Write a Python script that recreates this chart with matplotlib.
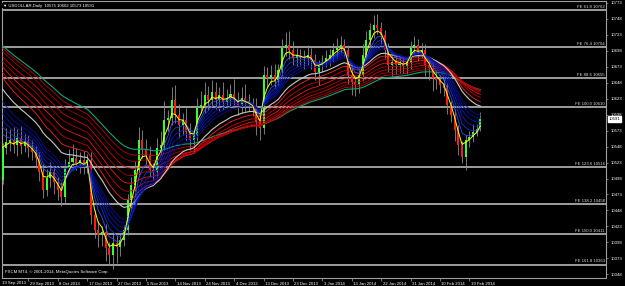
import matplotlib
matplotlib.use("Agg")
import matplotlib.pyplot as plt
import matplotlib.transforms as mtransforms

# daily closes, one per bar
closes = [10546, 10555, 10558, 10550, 10561, 10549, 10556, 10546, 10539, 10530,
          10508, 10480, 10499, 10508, 10492, 10480, 10469, 10514, 10524, 10530,
          10521, 10527, 10517, 10527, 10441, 10417, 10409, 10414, 10389, 10378,
          10397, 10391, 10402, 10417, 10464, 10488, 10511, 10558, 10542, 10535,
          10511, 10508, 10546, 10550, 10589, 10592, 10621, 10597, 10582, 10589,
          10571, 10558, 10566, 10608, 10613, 10629, 10621, 10633, 10621, 10629,
          10618, 10624, 10630, 10621, 10613, 10624, 10616, 10614, 10608, 10586,
          10577, 10660, 10655, 10660, 10652, 10668, 10702, 10707, 10699, 10686,
          10691, 10688, 10686, 10691, 10683, 10665, 10675, 10680, 10686, 10691,
          10699, 10702, 10707, 10699, 10660, 10649, 10644, 10660, 10691, 10715,
          10730, 10738, 10733, 10722, 10699, 10675, 10680, 10675, 10679, 10674,
          10680, 10702, 10707, 10696, 10699, 10675, 10671, 10655, 10652, 10644,
          10640, 10613, 10597, 10574, 10550, 10531, 10558, 10563, 10571, 10575,
          10591]
first_open = 10495
upper_wick = [8, 22, 18, 20, 15, 20, 12, 10, 12, 10,
              10, 12, 14, 16, 10, 8, 12, 14, 20, 22,
              16, 12, 14, 10, 12, 8, 14, 10, 12, 10,
              14, 12, 10, 8, 10, 12, 14, 20, 16, 18,
              14, 12, 16, 22, 30, 14, 20, 24, 18, 12,
              20, 14, 10, 16, 22, 20, 14, 20, 16, 12,
              20, 14, 16, 24, 12, 18, 22, 14, 10, 16,
              12, 14, 12, 16, 18, 10, 14, 20, 22, 14,
              12, 10, 12, 16, 12, 10, 8, 12, 14, 10,
              12, 16, 14, 10, 8, 12, 10, 14, 18, 14,
              12, 16, 18, 10, 8, 12, 10, 8, 12, 10,
              8, 12, 14, 10, 12, 10, 8, 10, 12, 8,
              10, 8, 6, 10, 8, 6, 8, 10, 12, 8,
              11]
lower_wick = [6, 10, 14, 12, 16, 12, 10, 14, 12, 16,
              14, 12, 10, 14, 18, 16, 14, 10, 8, 12,
              10, 14, 12, 10, 14, 12, 18, 16, 20, 16,
              22, 25, 14, 10, 8, 12, 10, 8, 12, 14,
              10, 12, 8, 10, 8, 16, 10, 12, 20, 16,
              12, 16, 20, 10, 8, 12, 16, 10, 14, 18,
              12, 10, 14, 10, 16, 12, 14, 10, 12, 20,
              18, 10, 14, 10, 12, 8, 10, 12, 14, 10,
              12, 14, 16, 10, 14, 12, 20, 10, 8, 12,
              10, 12, 8, 10, 14, 20, 16, 12, 10, 8,
              10, 12, 8, 14, 12, 10, 16, 14, 12, 10,
              12, 10, 8, 14, 10, 16, 18, 20, 14, 12,
              12, 14, 10, 18, 15, 8, 20, 10, 8, 6,
              2]

# moving averages: period and level just before the first visible bar
yellow_ma = (3, 10548)
blue_periods = [5, 7, 9, 11, 13, 15]
blue_seeds = [10578, 10589, 10600, 10610, 10619, 10629]
white_ma = (21, 10647)
red_periods = [25, 30, 35, 40, 45, 50, 55]
red_seeds = [10665, 10672, 10680, 10688, 10695, 10703, 10708]
green_ma = (60, 10711)

fib_names = ["61.8", "76.4", "88.6", "100.0", "123.6", "138.2", "150.0", "161.8"]
fib_prices = [10762, 10704, 10655, 10610, 10516, 10458, 10411, 10363]

date_labels = ["19 Sep 2013", "29 Sep 2013", "8 Oct 2013", "17 Oct 2013", "27 Oct 2013",
               "5 Nov 2013", "14 Nov 2013", "24 Nov 2013", "4 Dec 2013", "13 Dec 2013",
               "23 Dec 2013", "3 Jan 2014", "13 Jan 2014", "22 Jan 2014", "31 Jan 2014",
               "10 Feb 2014", "19 Feb 2014"]
price_ticks = list(range(10348, 10774, 25))
title = "USDOLLAR,Daily  10575 10602 10573 10591"


def ema(values, period, seed):
    k = 2.0 / (period + 1)
    out = []
    prev = seed
    for v in values:
        prev = prev + k * (v - prev)
        out.append(prev)
    return out


plt.rcParams['font.family'] = ['Liberation Sans', 'DejaVu Sans']
fs = 3.1

fig = plt.figure(figsize=(6.25, 2.86), dpi=100, facecolor='black')
W, H = 625.0, 286.0
ax = fig.add_axes([1.7 / W, 1 - 277.5 / H, (606 - 1.7) / W, (277.5 - 1) / H])
ax.set_facecolor('black')

n = len(closes)
xs = list(range(n))
opens = [first_open] + closes[:-1]
highs = [max(o, c) + u for o, c, u in zip(opens, closes, upper_wick)]
lows = [min(o, c) - d for o, c, d in zip(opens, closes, lower_wick)]

# candles
ax.vlines(xs, lows, highs, color='#8c8c8c', lw=0.6, zorder=2)
body_col = ['#33ff33' if c >= o else '#ff1a1a' for o, c in zip(opens, closes)]
body_h = [c - o if abs(c - o) > 1 else 1.5 for o, c in zip(opens, closes)]
ax.bar(xs, body_h, bottom=opens, width=0.55, color=body_col, lw=0, zorder=3)

# ribbons
ax.plot(xs, ema(closes, *green_ma), color='#12a37a', lw=0.8, zorder=4)
red_cols = ['#ff2020', '#d00000', '#ff1010', '#b00000', '#e00000', '#a00000', '#c80000']
for p, s, col in zip(red_periods, red_seeds, red_cols):
    ax.plot(xs, ema(closes, p, s), color=col, lw=0.6, zorder=4)
ax.plot(xs, ema(closes, *white_ma), color='#c8c8c8', lw=0.8, zorder=5)
blue_cols = ['#3050ff', '#1030e0', '#0020d0', '#0018c0', '#0010b0', '#0010a0']
for p, s, col in zip(blue_periods, blue_seeds, blue_cols):
    ax.plot(xs, ema(closes, p, s), color=col, lw=0.6, zorder=5)
ax.plot(xs, ema(closes, *yellow_ma), color='#ffff00', lw=0.7, zorder=6)

# fibonacci expansion levels
for name, price in zip(fib_names, fib_prices):
    ax.axhline(price, color='#c8c8c8', lw=1.1, zorder=1)
    ax.text(0.998, price + 2, "FE %s %d" % (name, price), color='#d8d8d8', fontsize=fs,
            ha='right', va='bottom', transform=mtransforms.blended_transform_factory(ax.transAxes, ax.transData))

ax.set_xlim(-0.27, 164.2)
ax.set_ylim(10343, 10776)

# axes styling
for sp in ax.spines.values():
    sp.set_color('#a0a0a0')
    sp.set_linewidth(0.8)

ax.yaxis.tick_right()
ax.set_yticks(price_ticks)
ax.set_yticklabels([str(p) for p in price_ticks])
ax.tick_params(axis='y', colors='#a0a0a0', labelcolor='white', labelsize=fs, length=1.5, width=0.5, pad=1.5)

tick_bars = [8 * k - 1 for k in range(1, len(date_labels))]
ax.set_xticks(tick_bars)
ax.set_xticklabels(date_labels[1:], ha='left')
ax.tick_params(axis='x', colors='#a0a0a0', labelcolor='white', labelsize=fs, length=2.5, width=0.5, pad=1.0)
for lbl in ax.get_xticklabels():
    lbl.set_transform(lbl.get_transform() + mtransforms.ScaledTranslation(1.5 / 100, 0, fig.dpi_scale_trans))
ax.text(-0.27, -0.012, date_labels[0], color='white', fontsize=fs, ha='left', va='top',
        transform=mtransforms.blended_transform_factory(ax.transData, ax.transAxes))

# current price box
ax.text(1.004, closes[-1], str(closes[-1]), color='black', fontsize=fs, ha='left', va='center',
        transform=mtransforms.blended_transform_factory(ax.transAxes, ax.transData),
        bbox=dict(boxstyle='square,pad=0.15', fc='white', ec='white'), clip_on=False, zorder=10)

# header and footer
fig.text(3 / W, 1 - 5.5 / H, u"\u25bc " + title, color='white', fontsize=fs, ha='left', va='center',
         bbox=dict(boxstyle='square,pad=0.2', fc='black', ec='none'))
ax.text(0.006, 0.012, u"FXCM MT4, \u00a9 2001-2014, MetaQuotes Software Corp.", color='white',
        fontsize=fs, ha='left', va='bottom', transform=ax.transAxes, zorder=10)

fig.savefig('out.png', dpi=100, facecolor='black')
